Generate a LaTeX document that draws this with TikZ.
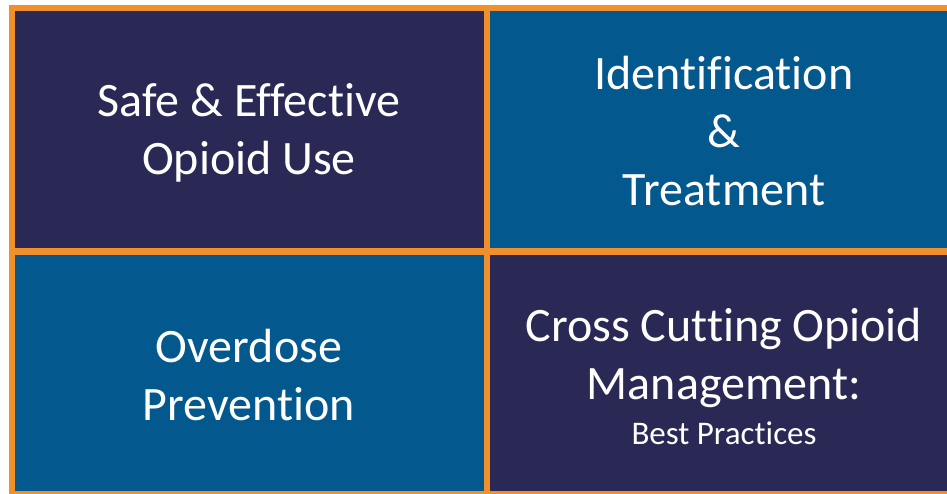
\documentclass[tikz,border=0pt]{standalone}
\usepackage{fontspec}
\setmainfont[Ligatures={NoCommon}]{Carlito}
\definecolor{navy}{HTML}{2A2955}
\definecolor{bluecell}{HTML}{03588E}
\definecolor{orangeb}{HTML}{F0902C}
\begin{document}
\begin{tikzpicture}[x=1pt,y=-1pt,
  label/.style={text=white,align=center,inner sep=0pt,font=\fontsize{48}{58}\selectfont},
]
\useasboundingbox (0,0) rectangle (947,494);
\fill[white] (0,0) rectangle (947,494);
\fill[orangeb] (9,5) rectangle (947,494);
\fill[navy] (15,11) rectangle (484,248);
\fill[bluecell] (490,11) rectangle (947,248);
\fill[bluecell] (15,255) rectangle (484,491);
\fill[navy] (490,255) rectangle (947,491);
\node[label] (a) at (249,133) {Safe \& Effective\\Opioid Use};
\node[label] (b) at (724,131) {Identification\\\&\\Treatment};
\node[label] (c) at (249,375) {Overdose\\Prevention};
\node[label,anchor=base] (d) at (724,341) {Cross Cutting Opioid};
\node[label,anchor=base] (e) at (724,399) {Management:};
\node[text=white,inner sep=0pt,font=\fontsize{33}{38}\selectfont,anchor=base] (f) at (724,444) {Best Practices};
\end{tikzpicture}
\end{document}
